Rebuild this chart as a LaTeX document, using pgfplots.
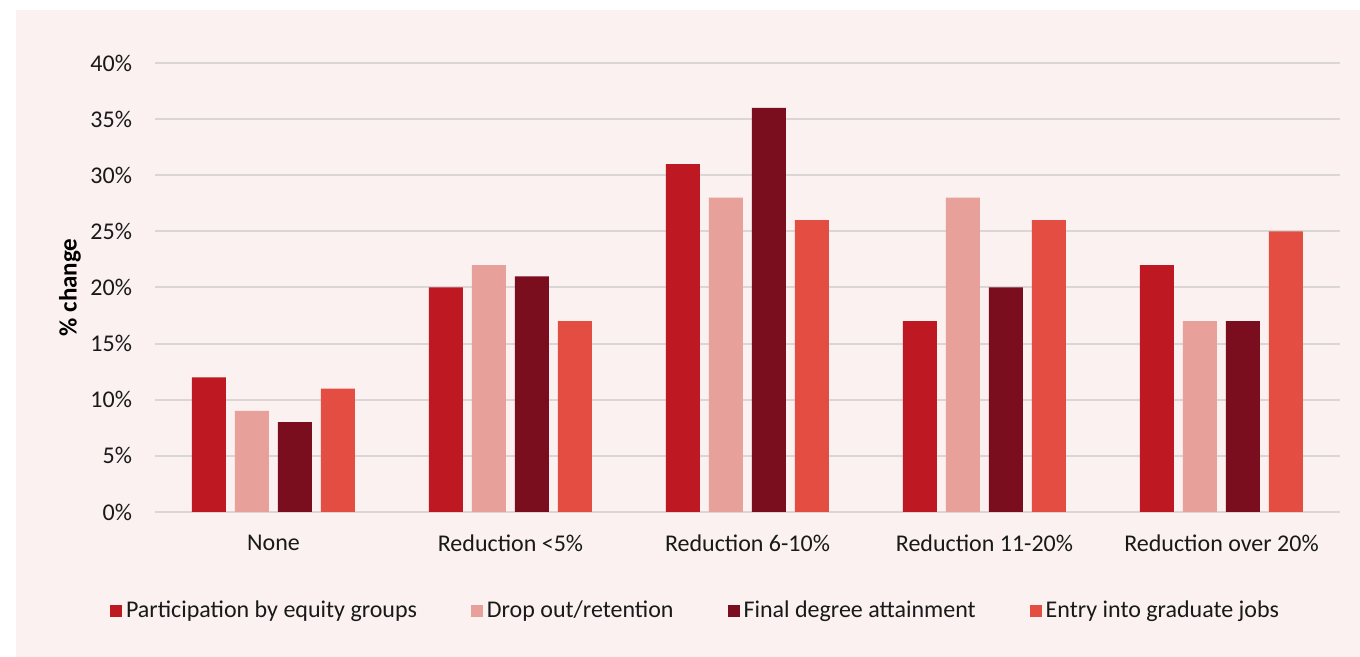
\documentclass[border=0pt]{standalone}
\usepackage{pgfplots}
\pgfplotsset{compat=1.18}
\usepackage{fontspec}
\setmainfont{Carlito}

\definecolor{bgpink}{RGB}{250,241,240}
\definecolor{gridgray}{RGB}{217,214,213}
\definecolor{cpart}{RGB}{190,24,34}
\definecolor{cdrop}{RGB}{232,160,154}
\definecolor{cfinal}{RGB}{123,14,30}
\definecolor{centry}{RGB}{227,77,66}
\definecolor{txt}{RGB}{25,25,25}

\begin{document}
\begin{tikzpicture}
\begin{axis}[
    set layers=standard,
    clip=false,
    scale only axis,
    width=592.5pt, height=224.5pt,
    ybar=4.5pt,
    bar width=17pt,
    xmin=-0.5, xmax=4.5,
    ymin=0, ymax=40,
    xtick={0,1,2,3,4},
    xticklabels={None, Reduction <5\%, Reduction 6-10\%, Reduction 11-20\%, Reduction over 20\%},
    ytick={0,5,...,40},
    yticklabel={\pgfmathprintnumber{\tick}\%},
    /pgf/number format/assume math mode=true,
    ymajorgrids=true,
    grid style={color=gridgray, line width=1pt},
    axis line style={draw=none},
    major tick length=0pt,
    tick label style={font=\fontsize{12}{14}\selectfont, text=txt},
    xticklabel style={yshift=-8pt},
    yticklabel style={xshift=-8pt},
    ylabel={\% change},
    ylabel style={at={(axis description cs:-0.0717,0.5)}, anchor=center, font=\bfseries\fontsize{12.5}{14}\selectfont, text=black},
    legend style={at={(axis description cs:0.457,-0.2205)}, anchor=center, draw=none, fill=none,
        legend columns=-1, font=\fontsize{12}{14}\selectfont, text=txt,
        /tikz/every even column/.append style={column sep=25pt}},
    legend image code/.code={\fill[#1] (0pt,-3pt) rectangle (6pt,3pt);},
]
\begin{pgfonlayer}{axis background}
\fill[bgpink] (axis description cs:-0.1173,-0.3229) rectangle (axis description cs:1.0169,1.118);
\end{pgfonlayer}
\path (axis description cs:-0.1308,1.1403) (axis description cs:1.0169,-0.3229);

\addplot[fill=cpart, draw=none] coordinates {(0,12) (1,20) (2,31) (3,17) (4,22)};
\addplot[fill=cdrop, draw=none] coordinates {(0,9) (1,22) (2,28) (3,28) (4,17)};
\addplot[fill=cfinal, draw=none] coordinates {(0,8) (1,21) (2,36) (3,20) (4,17)};
\addplot[fill=centry, draw=none] coordinates {(0,11) (1,17) (2,26) (3,26) (4,25)};
\legend{Participation by equity groups, Drop out/retention, Final degree attainment, Entry into graduate jobs}
\end{axis}
\end{tikzpicture}
\end{document}
